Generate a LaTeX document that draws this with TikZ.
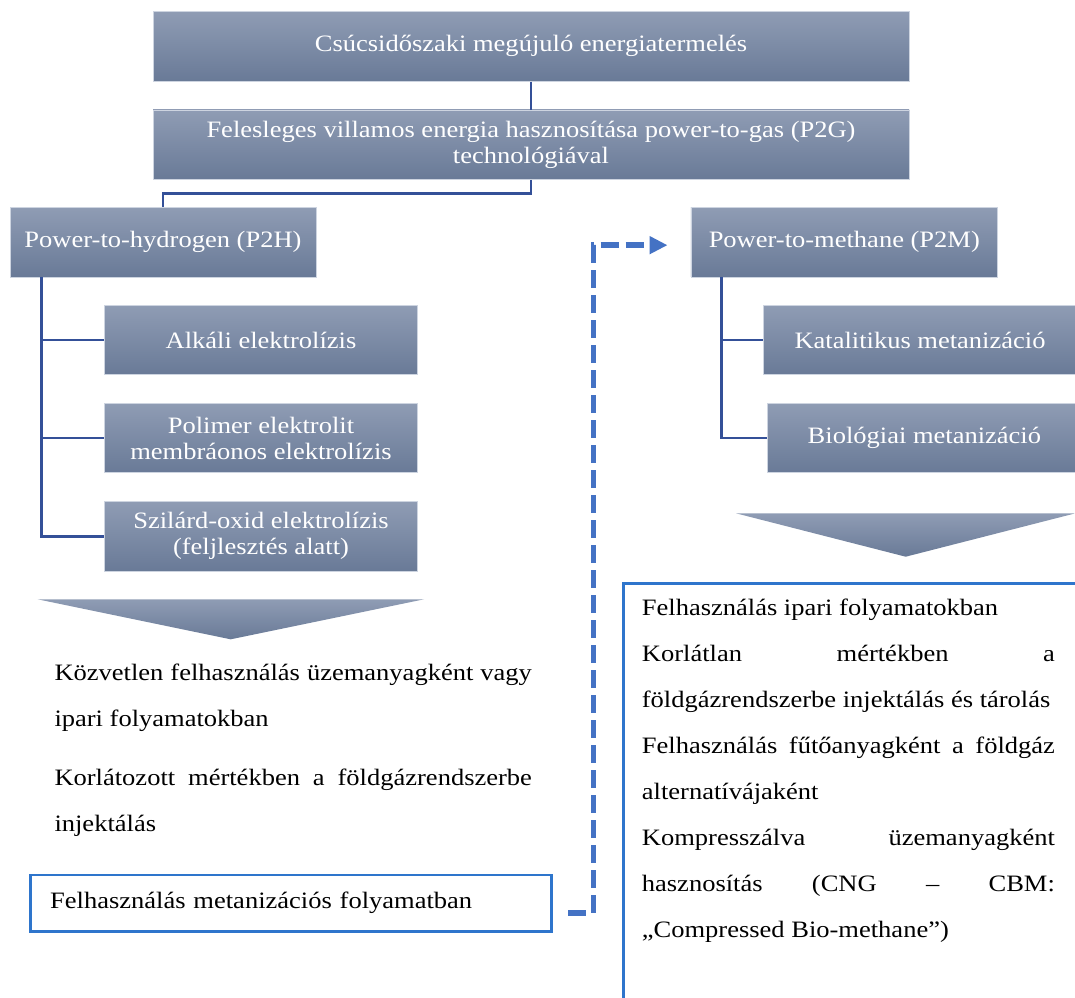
\documentclass[tikz,border=0pt]{standalone}
\usepackage{fontspec}
\setmainfont{Liberation Serif}[FakeStretch=1.128]
\usetikzlibrary{arrows.meta,calc}
\definecolor{boxtop}{RGB}{143,156,180}
\definecolor{boxbot}{RGB}{105,122,151}
\definecolor{boxedge}{RGB}{205,212,224}
\definecolor{treeline}{RGB}{52,80,152}
\definecolor{dashblue}{RGB}{68,114,196}
\definecolor{framblue}{RGB}{46,117,204}
\setlength\parindent{0pt}
\setlength\parskip{0pt}
\hyphenpenalty=10000
\exhyphenpenalty=10000
\begin{document}
\begin{tikzpicture}[x=1pt,y=-1pt,
  gbox/.style={rectangle, draw=boxedge, line width=0.8pt, top color=boxtop, bottom color=boxbot,
    text=white, font=\fontsize{23.5}{26}\selectfont, align=center, inner sep=0pt, minimum height=69.5pt},
  tree/.style={draw=treeline, line width=2.5pt},
  bodytext/.style={anchor=north west, inner sep=0pt, align=justify, font=\fontsize{23.5}{46}\selectfont, text=black},
  blueframe/.style={draw=framblue, line width=2.7pt},
  trishade/.style={top color=boxtop, bottom color=boxbot},
  flow/.style={draw=dashblue, line width=5.5pt, dash pattern=on 18pt off 7pt, -{Triangle[length=18pt,width=17pt]}}
]
\useasboundingbox (0,0) rectangle (1075,997);
\clip (0,0) rectangle (1075,997);

% boxes
\node[gbox, minimum width=756pt] (b1) at (531,46.35) {Csúcsidőszaki megújuló energiatermelés};
\node[gbox, minimum width=756pt] (b2) at (531,144.7) {Felesleges villamos energia hasznosítása power-to-gas (P2G)\\technológiával};
\node[gbox, minimum width=306pt] (p2h) at (163,242.15) {Power-to-hydrogen (P2H)};
\node[gbox, minimum width=313.4pt] (a1) at (261,340) {Alkáli elektrolízis};
\node[gbox, minimum width=313.4pt] (a2) at (261,438) {Polimer elektrolit\\membráonos elektrolízis};
\node[gbox, minimum width=313.4pt] (a3) at (261,536.3) {Szilárd-oxid elektrolízis\\(feljlesztés alatt)};
\node[gbox, minimum width=306.7pt] (p2m) at (844.3,242.15) {Power-to-methane (P2M)};
\node[gbox, minimum width=313.4pt] (k1) at (920,340) {Katalitikus metanizáció};
\node[gbox, minimum width=313.4pt] (k2) at (924.4,438) {Biológiai metanizáció};

% tree connectors
\coordinate (lx) at (41.7,0);
\coordinate (rx) at (721.7,0);
\draw[tree] (b1.south) -- (b2.north);
\draw[tree] (b2.south) -- ++(0,13.4) -| (p2h.north);
\draw[tree] (p2h.south -| lx) |- (a1.west);
\draw[tree] (p2h.south -| lx) |- (a2.west);
\draw[tree] (p2h.south -| lx) |- (a3.west);
\draw[tree] (p2m.south -| rx) |- (k1.west);
\draw[tree] (p2m.south -| rx) |- (k2.west);

% down arrows
\shade[trishade] (37.7,599.3) -- (424,599.3) -- (230.7,639.3) -- cycle;
\shade[trishade] (736,513.3) -- (1075.4,513.3) -- (905.7,556.7) -- cycle;

% left texts
\node[bodytext, text width=477.4pt] (lt1) at (54.3,647.8)
  {\strut Közvetlen felhasználás üzemanyagként vagy\linebreak ipari folyamatokban};
\node[bodytext, text width=477.4pt] (lt2) at (54.3,752.8)
  {\strut Korlátozott mértékben a földgázrendszerbe\linebreak injektálás};

\node[blueframe, minimum width=521pt, minimum height=56.7pt, text width=482pt, inner xsep=19.3pt,
  inner ysep=0pt, align=left, text height=16pt, text depth=6.1pt, font=\fontsize{23.5}{28}\selectfont]
  (mb) at (291.2,903.35) {Felhasználás metanizációs folyamatban};

% right frame and text
\draw[blueframe] (623.3,1010) -- (623.3,583.3) -- (1090,583.3);
\node[bodytext, text width=413pt] (rt) at (641.7,582.8)
  {\strut Felhasználás ipari folyamatokban\par
   Korlátlan mértékben a\linebreak földgázrendszerbe injektálás és tárolás\par
   Felhasználás fűtőanyagként a földgáz\linebreak alternatívájaként\par
   Kompresszálva üzemanyagként\linebreak hasznosítás (CNG – CBM:\linebreak „Compressed Bio-methane”)};

% dashed connector
\coordinate (ds) at ($(mb.east)+(15.3,9.6)$);
\draw[flow] (ds) -- ++(25,0) |- ([shift={(-23,3)}]p2m.west);
\end{tikzpicture}
\end{document}
